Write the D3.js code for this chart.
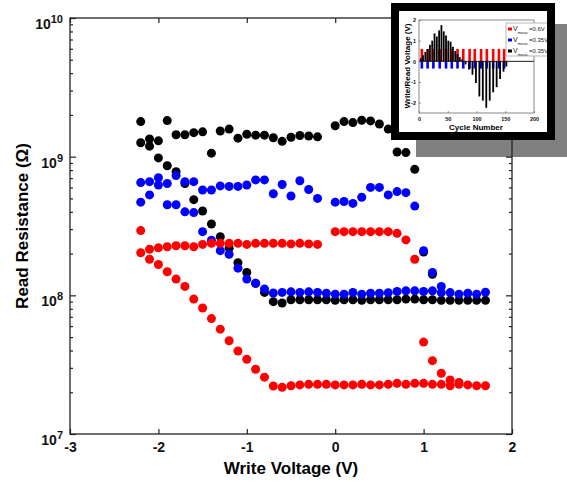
<!DOCTYPE html>
<html>
<head>
<meta charset="utf-8">
<script src="https://cdn.jsdelivr.net/npm/d3@7/dist/d3.min.js"></script>
<style>
  body { margin: 0; background: #fff; }
  svg { display: block; font-family: "Liberation Sans", Arial, sans-serif; }
</style>
</head>
<body>
<div id="chart"></div>
<script>
// ---- main chart data (write voltage in V, read resistance in ohm) ----
var blackAV = [-2.2,-2.1,-2.0,-1.9,-1.8,-1.7,-1.6,-1.5,-1.4,-1.3,-1.2,-1.1,-1.0,-0.9,-0.8,-0.7,-0.6,-0.5,-0.4,-0.3,-0.2,
               0.0,0.1,0.2,0.3,0.4,0.5,0.6,0.7,0.8,0.9,1.0,1.1];
var blackAR = [1.79e9,1.34e9,1.30e9,1.82e9,1.44e9,1.44e9,1.49e9,1.51e9,1.06e9,1.53e9,1.58e9,1.36e9,1.45e9,1.43e9,1.43e9,1.37e9,1.29e9,1.38e9,1.42e9,1.41e9,1.39e9,
               1.67e9,1.79e9,1.76e9,1.83e9,1.81e9,1.72e9,1.58e9,1.08e9,1.07e9,8.1e8,2.05e8,1.42e8];
var blackBV = [-2.2,-2.1,-2.0,-1.9,-1.8,-1.7,-1.6,-1.5,-1.4,-1.3,-1.2,-1.1,-1.0,-0.9,-0.8,-0.7,-0.6,-0.5,-0.4,-0.3,
               -0.2,-0.1,0.0,0.1,0.2,0.3,0.4,0.5,0.6,0.7,0.8,0.9,1.0,1.1,1.2,1.3,1.4,1.5,1.6,1.7];
var blackBR = [1.26e9,1.19e9,9.8e8,8.6e8,7.8e8,6.4e8,4.9e8,4.06e8,3.27e8,2.65e8,2.19e8,1.72e8,1.46e8,1.22e8,1.05e8,9.0e7,8.8e7,9.3e7,9.3e7,9.3e7,
               9.3e7,9.3e7,9.2e7,9.3e7,9.3e7,9.2e7,9.3e7,9.3e7,9.3e7,9.3e7,9.4e7,9.4e7,9.3e7,9.3e7,9.2e7,9.2e7,9.2e7,9.2e7,9.2e7,9.2e7];

var blueAV = [-2.2,-2.1,-2.0,-2.0,-1.9,-1.8,-1.7,-1.6,-1.5,-1.4,-1.3,-1.2,-1.1,-1.0,-0.9,-0.8,-0.7,-0.6,-0.5,-0.4,-0.3,-0.2,
              0.0,0.1,0.2,0.3,0.4,0.5,0.6,0.7,0.8,0.9,1.0,1.1,1.2];
var blueAR = [6.5e8,6.6e8,7.05e8,6.25e8,6.4e8,7.3e8,6.6e8,6.6e8,5.75e8,5.75e8,6.15e8,6.1e8,6.1e8,6.25e8,6.8e8,6.8e8,5.4e8,6.3e8,5.2e8,6.7e8,5.8e8,5.0e8,
              4.7e8,4.75e8,4.6e8,5.1e8,6.0e8,6.0e8,5.3e8,5.6e8,5.5e8,4.4e8,2.1e8,1.46e8,1.16e8];
var blueBV = [-2.2,-2.1,-1.9,-1.8,-1.7,-1.6,-1.5,-1.4,-1.3,-1.2,-1.1,-1.0,-0.9,-0.8,
              -0.7,-0.6,-0.5,-0.4,-0.3,-0.2,-0.1,0.0,0.1,0.2,0.3,0.4,0.5,0.6,0.7,0.8,0.9,1.0,1.1,1.2,1.3,1.4,1.5,1.6,1.7];
var blueBR = [4.7e8,5.3e8,4.5e8,4.5e8,4.0e8,3.95e8,2.88e8,2.5e8,2.1e8,1.98e8,1.57e8,1.31e8,1.22e8,1.11e8,
              1.04e8,1.05e8,1.06e8,1.05e8,1.06e8,1.05e8,1.035e8,1.02e8,1.02e8,1.05e8,1.02e8,1.035e8,1.035e8,1.045e8,1.065e8,1.077e8,1.077e8,1.065e8,1.077e8,1.046e8,1.046e8,1.02e8,1.035e8,1.02e8,1.052e8];

var redAV = [-2.2,-2.1,-2.0,-1.9,-1.8,-1.7,-1.6,-1.5,-1.4,-1.3,-1.2,-1.1,-1.0,-0.9,-0.8,-0.7,-0.6,-0.5,-0.4,-0.3,-0.2,
             0.0,0.1,0.2,0.3,0.4,0.5,0.6,0.7,0.8,0.9,1.0,1.1,1.2,1.3,1.4];
var redAR = [2.93e8,2.15e8,2.2e8,2.24e8,2.28e8,2.28e8,2.24e8,2.33e8,2.37e8,2.37e8,2.37e8,2.37e8,2.33e8,2.37e8,2.37e8,2.37e8,2.37e8,2.35e8,2.37e8,2.35e8,2.33e8,
             2.88e8,2.88e8,2.88e8,2.88e8,2.88e8,2.88e8,2.88e8,2.8e8,2.51e8,1.82e8,4.6e7,3.38e7,2.74e7,2.45e7,2.35e7];
var redBV = [-2.2,-2.1,-2.0,-1.9,-1.8,-1.7,-1.6,-1.5,-1.4,-1.3,-1.2,-1.1,-1.0,-0.9,-0.8,-0.7,-0.6,-0.5,-0.4,-0.3,
             -0.2,-0.1,0.0,0.1,0.2,0.3,0.4,0.5,0.6,0.7,0.8,0.9,1.0,1.1,1.2,1.3,1.4,1.5,1.6,1.7];
var redBR = [2.03e8,1.82e8,1.67e8,1.48e8,1.31e8,1.16e8,9.4e7,8.1e7,6.8e7,5.7e7,4.7e7,3.97e7,3.46e7,2.93e7,2.57e7,2.22e7,2.17e7,2.23e7,2.26e7,2.28e7,
             2.28e7,2.28e7,2.26e7,2.26e7,2.26e7,2.28e7,2.26e7,2.26e7,2.28e7,2.32e7,2.28e7,2.32e7,2.32e7,2.28e7,2.28e7,2.23e7,2.28e7,2.26e7,2.23e7,2.23e7];

var xTicks = [-3,-2,-1,0,1,2];
var yExps = [7,8,9,10];

// ---- inset data (cycle number vs write/read voltage) ----
var writeCycle = [3,7,11,15,19,23,27,31,35,39,43,47,51,55,59,63,67,71,75,
                  81,87,93,99,105,111,117,123,129,135,141,147,152];
var writeVolt  = [0.15,0.3,0.45,0.6,0.8,1.0,1.35,1.2,1.5,1.75,1.45,1.25,1.0,0.95,0.7,0.5,0.35,0.2,0.1,
                  -0.15,-0.4,-0.65,-1.05,-1.7,-1.9,-2.25,-1.9,-1.5,-1.25,-0.85,-0.5,-0.25];
var readCycle  = [5,15,25,36,47,57,67,77,88,97,108,118,129,139,148];
var readHigh = 0.6;
var readLow = -0.35;
var insetXTicks = [0,50,100,150,200];
var insetYTicks = [-2,-1,0,1,2];
var legendNames = ["=0.6V","=0.35V","=0.35V"];
var legendColors = ["#ff0000","#0000ff","#000000"];

var W = 567, H = 482;
var x = d3.scaleLinear().domain([-3, 2]).range([70, 512]);
var y = d3.scaleLog().domain([1e7, 1e10]).range([434, 18]);

var svg = d3.select("#chart").append("svg")
    .attr("width", W).attr("height", H);
svg.append("rect").attr("width", W).attr("height", H).attr("fill", "#fff");

// inset drop shadow (sits under main axes)
svg.append("rect")
    .attr("x", 416).attr("y", 24).attr("width", 170).attr("height", 133)
    .attr("fill", "#808080");

// ---- points: black, then blue, then red on top ----
function drawPoints(vs, rs, color) {
    var pts = vs.map(function(v, i) { return [v, rs[i]]; });
    svg.append("g").selectAll("circle").data(pts).enter().append("circle")
        .attr("cx", function(d) { return x(d[0]); })
        .attr("cy", function(d) { return y(d[1]); })
        .attr("r", 4.5)
        .attr("fill", color);
}
drawPoints(blackAV, blackAR, "#000");
drawPoints(blackBV, blackBR, "#000");
drawPoints(blueAV, blueAR, "#0000ff");
drawPoints(blueBV, blueBR, "#0000ff");
drawPoints(redAV, redAR, "#ff0000");
drawPoints(redBV, redBR, "#ff0000");

// ---- axes ----
var minor = [];
for (var e = 7; e < 10; e++) {
    for (var m = 2; m < 10; m++) minor.push(m * Math.pow(10, e));
}
var majors = yExps.map(function(p) { return Math.pow(10, p); });

function styleAxis(g) {
    g.select(".domain").remove();
    g.selectAll("line").attr("stroke", "#222").attr("stroke-width", 1.2);
}

svg.append("g").attr("transform", "translate(0,434)")
    .call(d3.axisBottom(x).tickValues(xTicks).tickSize(-5).tickPadding(8)
        .tickFormat(function(d) { return String(d); }))
    .call(styleAxis)
    .selectAll("text")
    .attr("fill", "#111").style("font-size", "14px").style("font-weight", "bold");

svg.append("g").attr("transform", "translate(0,18)")
    .call(d3.axisTop(x).tickValues(xTicks).tickSize(-5).tickFormat(""))
    .call(styleAxis);

svg.append("g").attr("transform", "translate(70,0)")
    .call(d3.axisLeft(y).tickValues(majors).tickSize(-6).tickFormat(""))
    .call(styleAxis);
svg.append("g").attr("transform", "translate(70,0)")
    .call(d3.axisLeft(y).tickValues(minor).tickSize(-3).tickFormat(""))
    .call(styleAxis);
svg.append("g").attr("transform", "translate(512,0)")
    .call(d3.axisRight(y).tickValues(majors).tickSize(-6).tickFormat(""))
    .call(styleAxis);
svg.append("g").attr("transform", "translate(512,0)")
    .call(d3.axisRight(y).tickValues(minor).tickSize(-3).tickFormat(""))
    .call(styleAxis);

svg.append("rect")
    .attr("x", 70).attr("y", 18).attr("width", 442).attr("height", 416)
    .attr("fill", "none").attr("stroke", "#222").attr("stroke-width", 1.3);

// y tick labels 10^n
yExps.forEach(function(p) {
    var t = svg.append("text")
        .attr("x", 63).attr("y", y(Math.pow(10, p)) + 11)
        .attr("text-anchor", "end")
        .attr("fill", "#111")
        .style("font-size", "14px").style("font-weight", "bold");
    t.append("tspan").text("10");
    t.append("tspan").attr("dy", -6).style("font-size", "11px").text(p);
});

// axis titles
svg.append("text")
    .attr("x", 291).attr("y", 474)
    .attr("text-anchor", "middle")
    .style("font-size", "17px").style("font-weight", "bold")
    .text("Write Voltage (V)");

svg.append("text")
    .attr("transform", "translate(28,226) rotate(-90)")
    .attr("text-anchor", "middle")
    .style("font-size", "17px").style("font-weight", "bold")
    .text("Read Resistance (\u03A9)");

// ---- inset ----
svg.append("rect")
    .attr("x", 395).attr("y", 7).attr("width", 156).attr("height", 129)
    .attr("fill", "#fff").attr("stroke", "#000").attr("stroke-width", 8);

var defs = svg.append("defs");
defs.append("clipPath").attr("id", "insetClip")
    .append("rect").attr("x", 399).attr("y", 11).attr("width", 148).attr("height", 121);

var inset = svg.append("g").attr("clip-path", "url(#insetClip)");
var ix = d3.scaleLinear().domain([0, 200]).range([419, 534]);
var iy = d3.scaleLinear().domain([-2.5, 2]).range([113, 20]);

// read pulses
inset.append("g").selectAll("rect").data(readCycle).enter().append("rect")
    .attr("x", function(d) { return ix(d) - 1.3; })
    .attr("y", iy(readHigh))
    .attr("width", 2.6)
    .attr("height", iy(0) - iy(readHigh))
    .attr("fill", "#ff0000");
inset.append("g").selectAll("rect").data(readCycle).enter().append("rect")
    .attr("x", function(d) { return ix(d) - 1.3; })
    .attr("y", iy(0))
    .attr("width", 2.6)
    .attr("height", iy(readLow) - iy(0))
    .attr("fill", "#0000ff");

// write pulses
inset.append("g").selectAll("line").data(writeCycle).enter().append("line")
    .attr("x1", function(d) { return ix(d); })
    .attr("x2", function(d) { return ix(d); })
    .attr("y1", iy(0))
    .attr("y2", function(d, i) { return iy(writeVolt[i]); })
    .attr("stroke", "#000").attr("stroke-width", 1.8);

inset.append("line")
    .attr("x1", ix(0)).attr("x2", ix(200))
    .attr("y1", iy(0)).attr("y2", iy(0))
    .attr("stroke", "#000").attr("stroke-width", 0.9);

inset.append("rect")
    .attr("x", 419).attr("y", 20).attr("width", 115).attr("height", 93)
    .attr("fill", "none").attr("stroke", "#555").attr("stroke-width", 0.7);

inset.append("g").attr("transform", "translate(0,113)")
    .call(d3.axisBottom(ix).tickValues(insetXTicks).tickSize(-2).tickPadding(4))
    .call(function(g) {
        g.select(".domain").remove();
        g.selectAll("line").attr("stroke", "#555").attr("stroke-width", 0.6);
        g.selectAll("text").attr("fill", "#111").style("font-size", "5.5px").style("font-weight", "bold");
    });
inset.append("g").attr("transform", "translate(419,0)")
    .call(d3.axisLeft(iy).tickValues(insetYTicks).tickSize(-2).tickPadding(3)
        .tickFormat(function(d) { return String(d); }))
    .call(function(g) {
        g.select(".domain").remove();
        g.selectAll("line").attr("stroke", "#555").attr("stroke-width", 0.6);
        g.selectAll("text").attr("fill", "#111").style("font-size", "5.5px").style("font-weight", "bold");
    });

inset.append("text")
    .attr("x", 476).attr("y", 130)
    .attr("text-anchor", "middle")
    .style("font-size", "8px").style("font-weight", "bold")
    .text("Cycle Number");
inset.append("text")
    .attr("transform", "translate(410,66) rotate(-90)")
    .attr("text-anchor", "middle")
    .style("font-size", "8px").style("font-weight", "bold")
    .text("Write/Read Voltage (V)");

// inset legend
var lg = inset.append("g");
lg.append("rect")
    .attr("x", 506).attr("y", 23).attr("width", 45).attr("height", 33)
    .attr("fill", "#fff").attr("stroke", "#888").attr("stroke-width", 0.6);
legendNames.forEach(function(name, i) {
    var yy = 29 + i * 11;
    lg.append("rect").attr("x", 508).attr("y", yy - 1.5).attr("width", 4).attr("height", 3)
        .attr("fill", legendColors[i]);
    var t = lg.append("text").attr("x", 513).attr("y", yy + 2)
        .style("font-size", "7px").attr("fill", "#222");
    t.append("tspan").text("V");
    t.append("tspan").attr("dy", 3).style("font-size", "4px").text("meas.");
    lg.append("text").attr("x", 529).attr("y", yy + 2)
        .style("font-size", "6px").attr("fill", "#222").text(name);
});
</script>
</body>
</html>
